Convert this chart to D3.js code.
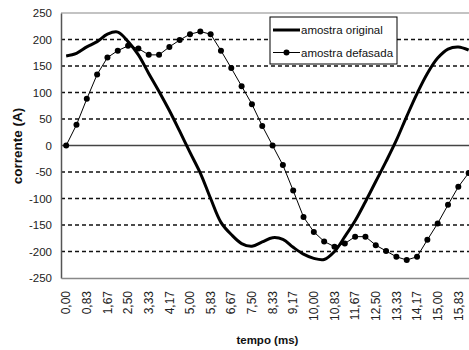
<!DOCTYPE html>
<html>
<head>
<meta charset="utf-8">
<script src="https://cdn.jsdelivr.net/npm/d3@7"></script>
<style>
  html, body { margin: 0; padding: 0; background: #fff; }
  svg { display: block; font-family: "Liberation Sans", Arial, sans-serif; }
</style>
</head>
<body>
<svg id="chart" width="469" height="350"></svg>
<script>
// ---- data ----
const tickLabels = ["0,00","0,83","1,67","2,50","3,33","4,17","5,00","5,83","6,67","7,50",
                    "8,33","9,17","10,00","10,83","11,67","12,50","13,33","14,17","15,00","15,83"];
const yTicks = [-250,-200,-150,-100,-50,0,50,100,150,200,250];
const seriesNames = ["amostra original", "amostra defasada"];
const original = [169,174,186,196,210,214,196,171,136,102,
                  66,27,-13,-52,-100,-145,-168,-185,-190,-182,
                  -174,-177,-192,-205,-213,-215,-200,-172,-142,-106,
                  -68,-30,10,55,98,136,165,182,186,180];
const defasada = [0,39,88,134,166,179,188,183,171,171,
                  186,199,210,215,210,179,146,112,78,37,
                  0,-37,-85,-135,-163,-181,-191,-185,-172,-172,
                  -188,-199,-210,-216,-210,-178,-147,-112,-78,-52];

(function () {
const svg = d3.select("#chart");
const pLeft = 61, pTop = 13, pBottom = 278;
const n = original.length;
const idx = d3.range(n);

const x = d3.scaleBand().domain(idx).range([pLeft, pLeft + n * 10.32]).padding(0);
const cx = i => x(i) + x.bandwidth() / 2;
const y = d3.scaleLinear().domain([-250, 250]).range([pBottom, pTop]);
const pRight = x.range()[1];

// gridlines (dashed), excluding 0, -250, 250
svg.append("g").selectAll("line")
  .data(yTicks.filter(v => v !== 0 && Math.abs(v) !== 250))
  .join("line")
  .attr("x1", pLeft).attr("x2", pRight)
  .attr("y1", d => y(d)).attr("y2", d => y(d))
  .attr("stroke", "#111").attr("stroke-width", 1.4)
  .attr("stroke-dasharray", "4,3");

// plot frame top
svg.append("line").attr("x1", pLeft).attr("x2", pRight)
  .attr("y1", y(250)).attr("y2", y(250))
  .attr("stroke", "#888").attr("stroke-width", 1.2);

// zero line
svg.append("line").attr("x1", pLeft).attr("x2", pRight)
  .attr("y1", y(0)).attr("y2", y(0))
  .attr("stroke", "#444").attr("stroke-width", 1.5);

// y axis
const yAxis = svg.append("g").attr("transform", `translate(${pLeft},0)`)
  .call(d3.axisLeft(y).tickValues(yTicks).tickSize(0).tickPadding(9).tickFormat(d => String(d)));
yAxis.select(".domain").attr("stroke", "#555").attr("stroke-width", 1.5);
yAxis.selectAll("text").attr("font-size", "11.5px").attr("fill", "#222")
  .attr("font-family", "Liberation Sans, Arial, sans-serif");

// x axis
const xAxis = svg.append("g").attr("transform", `translate(0,${pBottom})`)
  .call(d3.axisBottom(x).tickValues(idx.filter(i => i % 2 === 0))
        .tickSize(0).tickFormat(i => tickLabels[i / 2]));
xAxis.select(".domain").attr("stroke", "#888").attr("stroke-width", 1.5);
xAxis.selectAll("text")
  .attr("font-size", "12px").attr("fill", "#222")
  .attr("font-family", "Liberation Sans, Arial, sans-serif")
  .attr("text-anchor", "end")
  .attr("transform", "rotate(-90)")
  .attr("x", -13).attr("y", 0).attr("dy", "0.35em");

// original series (thick smooth line)
svg.append("path")
  .datum(original)
  .attr("fill", "none").attr("stroke", "#000").attr("stroke-width", 3)
  .attr("stroke-linejoin", "round")
  .attr("d", d3.line().x((d, i) => cx(i)).y(d => y(d)).curve(d3.curveCatmullRom.alpha(0.5)));

// defasada series (thin line with markers)
svg.append("path")
  .datum(defasada)
  .attr("fill", "none").attr("stroke", "#000").attr("stroke-width", 1)
  .attr("d", d3.line().x((d, i) => cx(i)).y(d => y(d)));
svg.append("g").selectAll("circle")
  .data(defasada).join("circle")
  .attr("cx", (d, i) => cx(i)).attr("cy", d => y(d)).attr("r", 3)
  .attr("fill", "#000");

// axis titles
svg.append("text").attr("x", (pLeft + pRight) / 2).attr("y", 344)
  .attr("text-anchor", "middle").attr("font-size", "11.5px").attr("font-weight", "bold")
  .attr("fill", "#111").text("tempo (ms)");
svg.append("text").attr("transform", "translate(22,146) rotate(-90)")
  .attr("text-anchor", "middle").attr("font-size", "13.5px").attr("font-weight", "bold")
  .attr("fill", "#111").text("corrente (A)");

// legend
const lg = svg.append("g");
lg.append("rect").attr("x", 270).attr("y", 17).attr("width", 127).attr("height", 47)
  .attr("fill", "#fff").attr("stroke", "#000").attr("stroke-width", 1);
lg.append("line").attr("x1", 273).attr("x2", 300).attr("y1", 30).attr("y2", 30)
  .attr("stroke", "#000").attr("stroke-width", 3);
lg.append("line").attr("x1", 273).attr("x2", 300).attr("y1", 52.5).attr("y2", 52.5)
  .attr("stroke", "#000").attr("stroke-width", 1);
lg.append("circle").attr("cx", 286.5).attr("cy", 52.5).attr("r", 3).attr("fill", "#000");
lg.selectAll("text.leg").data(seriesNames).join("text").attr("class", "leg")
  .attr("x", 301).attr("y", (d, i) => i === 0 ? 30 : 52.5).attr("dy", "0.35em")
  .attr("font-size", "11.5px").attr("fill", "#111").text(d => d);
})();
</script>
</body>
</html>
